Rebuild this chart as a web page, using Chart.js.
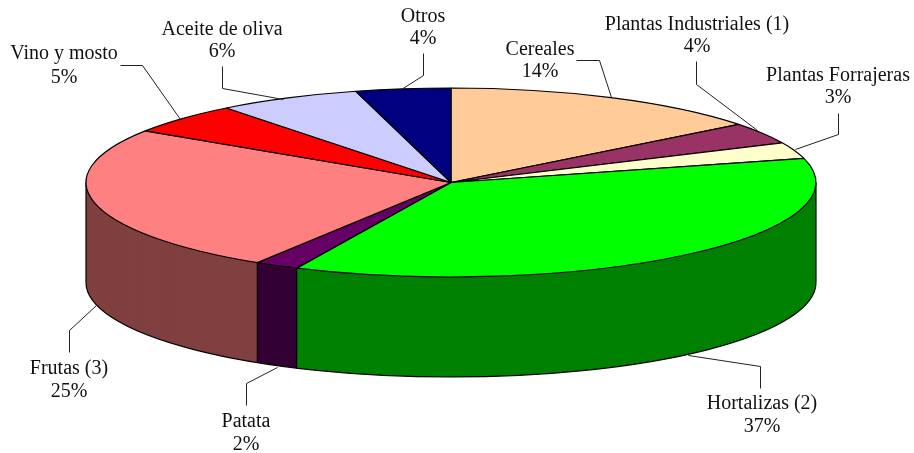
<!DOCTYPE html>
<html>
<head>
<meta charset="utf-8">
<style>
body{margin:0;background:#fff}
#chart{display:block}
</style>
<script src="https://cdn.jsdelivr.net/npm/chart.js@4"></script>
</head>
<body>
<canvas id="chart" width="914" height="453"></canvas>
<script>
// categories and what the picture prints for them
let categories=["Cereales","Plantas Industriales (1)","Plantas Forrajeras","Hortalizas (2)","Patata","Frutas (3)","Vino y mosto","Aceite de oliva","Otros"];
let percentLabels=["14%","4%","3%","37%","2%","25%","5%","6%","4%"];
// slice sizes as measured on the drawn pie
let sliceValues=[14.45,3.65,2.8,36.05,1.95,25.3,5.25,6.35,4.2];
let topColors=["#FFCC99","#993366","#FFFFCC","#00FF00","#660066","#FF8080","#FF0000","#CCCCFF","#000080"];
let wallColors=["#806640","#4D1A33","#808066","#008000","#330033","#804040","#800000","#666680","#000040"];

// label centre x, first and second baseline
let labelX=[540,697,838,762,246,69,64,222,423];
let labelY1=[55,30,81,409,427,374,59,35,22];
let labelY2=[77,52,103,432,450,397,83,57,44];
// leader lines
let leaders=[
    [[576,60],[599,60],[611,97]],
    [[696,61],[696,84],[757,130]],
    [[838,113],[838,134],[795,149]],
    [[760,388],[760,366],[688,355]],
    [[246,405],[246,383],[277,367]],
    [[69,352],[69,330],[96,305]],
    [[120,65],[142,65],[180,119]],
    [[222,66],[222,88],[283,99]],
    [[423,53],[423,75],[401,89]]
];

let centerX=451, centerY=182.5, radiusX=365, radiusY=94.5, depth=100;
let labelFont="20px 'Liberation Serif'";

function rimPoint(angle,d){
    return [centerX+radiusX*Math.cos(angle),centerY+radiusY*Math.sin(angle)+d];
}

function squash(ctx,arc,d){
    let r=arc.outerRadius;
    ctx.translate(centerX,centerY+d);
    ctx.scale(radiusX/r,radiusY/r);
    ctx.translate(-arc.x,-arc.y);
}

function line(ctx,a,b){
    ctx.beginPath();
    ctx.moveTo(a[0],a[1]);
    ctx.lineTo(b[0],b[1]);
    ctx.stroke();
}

let pie3d={
    id:"pie3d",
    beforeDatasetsDraw:function(chart){
        let ctx=chart.ctx;
        let arcs=chart.getDatasetMeta(0).data;
        // side walls: only the front half of the pie can be seen
        arcs.forEach(function(arc,i){
            let from=Math.max(arc.startAngle,0);
            let to=Math.min(arc.endAngle,Math.PI);
            if(to<=from) return;
            let x1=Math.floor(rimPoint(to,0)[0]);
            let x2=Math.ceil(rimPoint(from,0)[0]);
            let original=arc.options;
            let flat=Object.create(original);
            flat.backgroundColor=wallColors[i];
            flat.borderWidth=0;
            arc.options=flat;
            // a slightly wider wedge, the clip keeps it in its strip (no seams)
            let widen=0.03;
            arc.startAngle-=widen;
            arc.endAngle+=widen;
            arc.circumference+=2*widen;
            ctx.save();
            ctx.beginPath();
            ctx.rect(x1,0,x2-x1,chart.height);
            ctx.clip();
            for(let d=depth;d>0;d--){
                ctx.save();
                squash(ctx,arc,d);
                arc.draw(ctx);
                ctx.restore();
            }
            ctx.restore();
            arc.startAngle+=widen;
            arc.endAngle-=widen;
            arc.circumference-=2*widen;
            arc.options=original;
        });
        // outline of the walls
        ctx.save();
        ctx.strokeStyle="#000";
        ctx.lineWidth=1.2;
        ctx.beginPath();
        ctx.ellipse(centerX,centerY+depth,radiusX,radiusY,0,0,Math.PI);
        ctx.stroke();
        let edges=[0,Math.PI];
        arcs.forEach(function(arc){
            if(arc.endAngle>0 && arc.endAngle<Math.PI) edges.push(arc.endAngle);
        });
        edges.forEach(function(a){
            line(ctx,rimPoint(a,0),rimPoint(a,depth));
        });
        ctx.restore();
        // the top face: squash the round pie, but keep the pen 1px wide
        ctx.save();
        squash(ctx,arcs[0],0);
        let stroke=ctx.stroke;
        ctx.stroke=function(){
            ctx.save();
            ctx.setTransform(1,0,0,1,0,0);
            stroke.call(ctx);
            ctx.restore();
        };
    },
    afterDatasetsDraw:function(chart){
        let ctx=chart.ctx;
        delete ctx.stroke;
        ctx.restore();
    },
    afterDraw:function(chart){
        let ctx=chart.ctx;
        ctx.save();
        ctx.strokeStyle="#222";
        ctx.lineWidth=1;
        leaders.forEach(function(p){
            ctx.beginPath();
            ctx.moveTo(p[0][0]+0.5,p[0][1]+0.5);
            ctx.lineTo(p[1][0]+0.5,p[1][1]+0.5);
            ctx.lineTo(p[2][0]+0.5,p[2][1]+0.5);
            ctx.stroke();
        });
        ctx.fillStyle="#111";
        ctx.font=labelFont;
        ctx.textAlign="center";
        ctx.textBaseline="alphabetic";
        for(let i=0;i<categories.length;i++){
            ctx.fillText(categories[i],labelX[i],labelY1[i]);
            ctx.fillText(percentLabels[i],labelX[i],labelY2[i]);
        }
        ctx.restore();
    }
};

new Chart(document.getElementById("chart").getContext("2d"),{
    type:"pie",
    data:{
        labels:categories,
        datasets:[{
            data:sliceValues,
            backgroundColor:topColors,
            borderColor:"#000",
            borderWidth:1.2,
            clip:false
        }]
    },
    options:{
        responsive:false,
        animation:false,
        plugins:{legend:{display:false},tooltip:{enabled:false},title:{display:false}}
    },
    plugins:[pie3d]
});
</script>
</body>
</html>
